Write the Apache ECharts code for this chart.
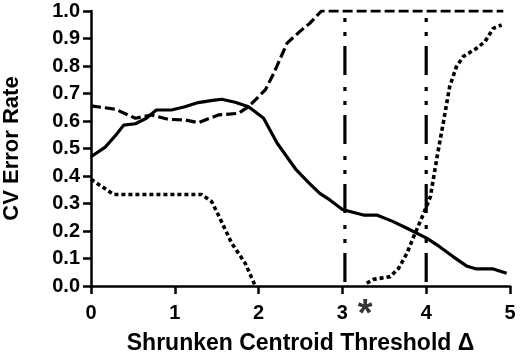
<!DOCTYPE html>
<html>
<head>
<meta charset="utf-8">
<script src="https://cdn.jsdelivr.net/npm/echarts@6/dist/echarts.min.js"></script>
<style>
  html, body { margin: 0; padding: 0; background: #fff; }
  #chart { width: 520px; height: 352px; }
</style>
</head>
<body>
<div id="chart"></div>
<script>
// values, [threshold, error rate]
var solidLine = [[0,0.47],[0.17,0.505],[0.3,0.55],[0.39,0.585],[0.53,0.59],[0.66,0.61],[0.78,0.64],[0.96,0.64],
  [1.12,0.652],[1.28,0.667],[1.45,0.675],[1.56,0.679],[1.72,0.668],[1.88,0.652],[2.06,0.61],[2.22,0.52],
  [2.45,0.422],[2.6,0.375],[2.73,0.337],[2.85,0.313],[3.0,0.278],[3.25,0.258],[3.41,0.258],[3.6,0.235],
  [3.77,0.21],[4.01,0.173],[4.16,0.143],[4.32,0.107],[4.48,0.073],[4.6,0.062],[4.8,0.062],[4.96,0.046]];
var dashedLine = [[0,0.655],[0.29,0.643],[0.53,0.61],[0.72,0.622],[0.92,0.606],[1.12,0.604],[1.28,0.594],
  [1.52,0.622],[1.76,0.628],[1.88,0.652],[2.08,0.713],[2.18,0.773],[2.34,0.883],[2.49,0.925],[2.61,0.955],
  [2.75,1.0],[4.92,1.0]];
var dottedLeft = [[0,0.388],[0.27,0.333],[1.32,0.333],[1.44,0.307],[1.52,0.258],[1.68,0.155],[1.84,0.083],[1.96,0]];
var dottedRight = [[3.29,0.01],[3.37,0.024],[3.57,0.034],[3.67,0.064],[3.77,0.119],[3.85,0.179],[3.97,0.264],
  [4.05,0.325],[4.13,0.47],[4.21,0.604],[4.28,0.725],[4.36,0.797],[4.44,0.834],[4.6,0.864],[4.7,0.888],
  [4.8,0.937],[4.9,0.949]];
var cutLines = [3.03, 4.0];
var cutTop = 0.975;
var starAt = [3.27, 0];

var font = 'Liberation Sans, Arial, sans-serif';
var chart = echarts.init(document.getElementById('chart'));

var lineSeries = function(data, type, width){
  return {
    type: 'line',
    data: data,
    symbol: 'none',
    silent: true,
    lineStyle: { color: '#000', width: width, type: type, cap: 'butt' }
  };
};

var series = [
  lineSeries(solidLine, 'solid', 3.2),
  lineSeries(dashedLine, [10, 4], 3.2),
  lineSeries(dottedLeft, [4, 3], 3.6),
  lineSeries(dottedRight, [4, 3], 3.6)
];
cutLines.forEach(function(x){
  series.push(lineSeries([[x, cutTop], [x, 0]], [4, 10, 4, 10, 29, 12], 3.2));
});
series.push({
  type: 'scatter',
  data: [starAt],
  symbolSize: 0,
  silent: true,
  label: {
    show: true,
    formatter: '*',
    color: '#000',
    fontFamily: font,
    fontWeight: 'bold',
    fontSize: 38,
    offset: [0, 30]
  }
});

chart.setOption({
  animation: false,
  grid: { left: 91, right: 10, top: 11, bottom: 66, outerBoundsMode: 'none' },
  xAxis: {
    type: 'value',
    min: 0, max: 5, interval: 1,
    name: 'Shrunken Centroid Threshold Δ',
    nameLocation: 'middle',
    nameGap: 46,
    nameTextStyle: { color: '#000', fontFamily: font, fontWeight: 'bold', fontSize: 23 },
    axisLine: { lineStyle: { color: '#000', width: 2.5 } },
    axisTick: { length: 8, lineStyle: { color: '#000', width: 2.5 } },
    axisLabel: { color: '#000', fontFamily: font, fontWeight: 'bold', fontSize: 20, margin: 17 },
    splitLine: { show: false }
  },
  yAxis: {
    type: 'value',
    min: 0, max: 1, interval: 0.1,
    name: 'CV Error Rate',
    nameLocation: 'middle',
    nameGap: 68,
    nameTextStyle: { color: '#000', fontFamily: font, fontWeight: 'bold', fontSize: 22 },
    axisLine: { lineStyle: { color: '#000', width: 2.5 } },
    axisTick: { length: 8, lineStyle: { color: '#000', width: 2.5 } },
    axisLabel: {
      color: '#000', fontFamily: font, fontWeight: 'bold', fontSize: 20, margin: 11,
      formatter: function(v){ return v.toFixed(1); }
    },
    splitLine: { show: false }
  },
  series: series
});
</script>
</body>
</html>
